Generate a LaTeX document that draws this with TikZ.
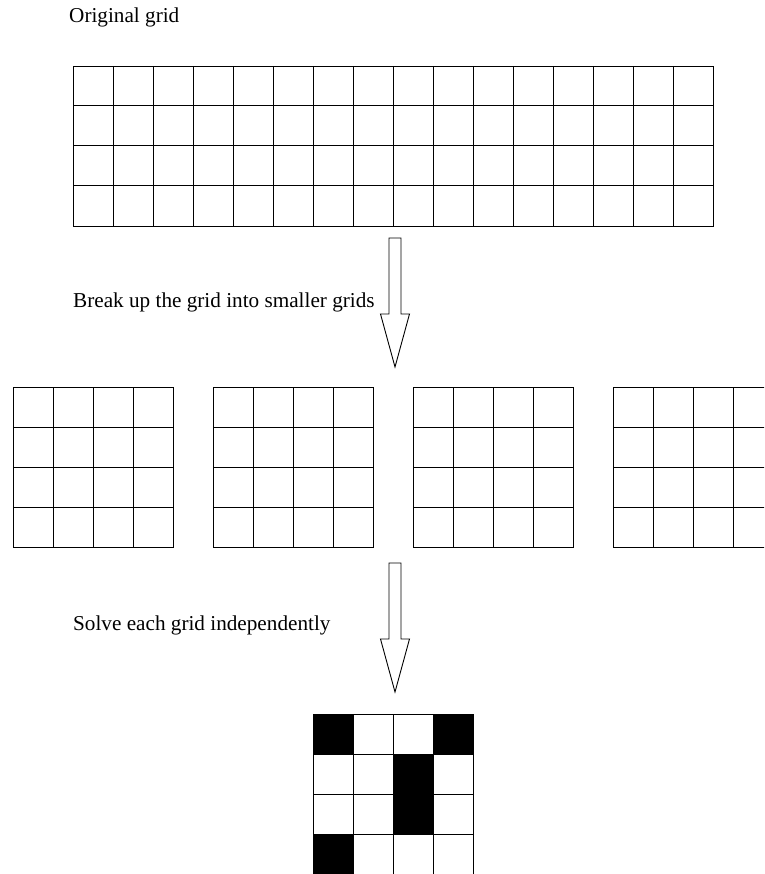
\documentclass[tikz,border=0pt]{standalone}
\usepackage{fontspec}
\setmainfont{Liberation Serif}
\usepackage{tikz}
\usetikzlibrary{calc}

\newcommand\labelfont{\fontsize{21.2}{25}\selectfont}
% inner lines of a grid node: #1 name, #2 number of inner columns
\newcommand\gridlines[2]{%
  \foreach \i in {1,...,#2} \draw[cellline] ($(#1.north west)+(40*\i,0)$) -- ($(#1.south west)+(40*\i,0)$);
  \foreach \j in {1,2,3} \draw[cellline] ($(#1.north west)+(0,40*\j)$) -- ($(#1.north east)+(0,40*\j)$);
}
% hollow block arrow from #1 (top) down to #2 (tip)
\newcommand\blockarrow[2]{%
  \draw[arrowline] ($(#1)+(-6,0)$) -- ($(#2)+(-6,-53)$) -- ($(#2)+(-14.5,-53)$) -- (#2)
    -- ($(#2)+(14.5,-53)$) -- ($(#2)+(6,-53)$) -- ($(#1)+(6,0)$) -- cycle;
}

\tikzset{
  gridbox/.style={draw, line width=1pt, anchor=north west, inner sep=0pt, minimum height=160pt},
  cellline/.style={line width=1pt},
  arrowline/.style={draw, line width=0.9pt, fill=white},
  caption/.style={anchor=base west, inner sep=0pt, font=\labelfont},
}

\begin{document}
\begin{tikzpicture}[x=1pt, y=-1pt]
\useasboundingbox (0,0) rectangle (764,874);
\clip (0,0) rectangle (764,874);

\node[caption] (origtext) at (69,23) {Original grid};
\node[caption] (breaktext) at (73,307) {Break up the grid into smaller grids};
\node[caption] (solvetext) at (73,630) {Solve each grid independently};

% the original grid
\node[gridbox, minimum width=640pt] (orig) at (73,66) {};
\gridlines{orig}{15}

% the smaller grids
\foreach \n/\x in {part1/13, part2/213, part3/413, part4/613} {
  \node[gridbox, minimum width=160pt] (\n) at (\x,387) {};
  \gridlines{\n}{3}
}

% the solved grid
\node[gridbox, minimum width=160pt] (solved) at (313,714) {};
\foreach \c/\r in {0/0, 3/0, 2/1, 2/2, 0/3}
  \fill ($(solved.north west)+(40*\c,40*\r)$) rectangle ++(40,40);
\gridlines{solved}{3}

\coordinate (arrow1top) at (395,238);
\coordinate (arrow1tip) at (395,367);
\coordinate (arrow2top) at (395,563);
\coordinate (arrow2tip) at (395,692);
\blockarrow{arrow1top}{arrow1tip}
\blockarrow{arrow2top}{arrow2tip}
\end{tikzpicture}
\end{document}
